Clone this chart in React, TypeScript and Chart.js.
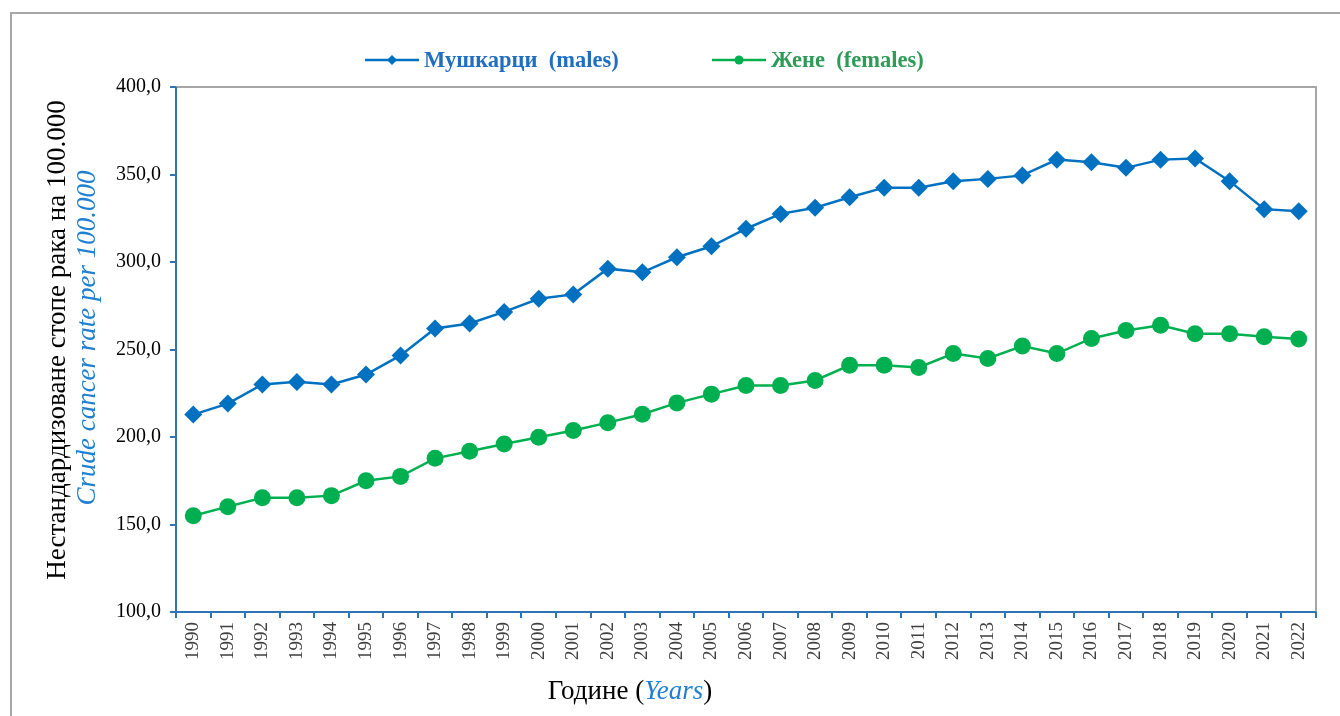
import React, { useEffect, useRef } from "react";
import { Chart, registerables } from "chart.js";

Chart.register(...registerables);

const years = [
  "1990","1991","1992","1993","1994","1995","1996","1997","1998","1999",
  "2000","2001","2002","2003","2004","2005","2006","2007","2008","2009",
  "2010","2011","2012","2013","2014","2015","2016","2017","2018","2019",
  "2020","2021","2022",
];

const males = [
  212.8, 219.1, 230.0, 231.5, 230.0, 235.7, 246.6, 262.0, 264.9, 271.5,
  279.0, 281.5, 296.2, 294.1, 302.7, 309.0, 319.0, 327.5, 331.0, 337.0,
  342.5, 342.5, 346.2, 347.5, 349.5, 358.5, 357.0, 353.8, 358.5, 359.2,
  346.2, 330.2, 329.0,
];

const females = [
  155.0, 160.2, 165.3, 165.3, 166.5, 175.0, 177.5, 187.8, 191.8, 196.0,
  199.8, 203.7, 208.2, 213.0, 219.5, 224.5, 229.4, 229.4, 232.3, 241.0,
  241.0, 239.7, 247.7, 244.9, 252.0, 247.7, 256.3, 260.9, 263.8, 259.0,
  259.0, 257.3, 256.0,
];

const maleLabel = "Мушкарци  (males)";
const femaleLabel = "Жене  (females)";
const yTitleMain = "Нестандардизоване стопе рака на 100.000";
const yTitleSub = "Crude cancer rate per 100.000";
const xTitleMain = "Године (";
const xTitleSub = "Years";
const xTitleEnd = ")";

const BLUE = "#0070C0";
const GREEN = "#00B050";
const AXIS = "#2E75B6";
const FRAME = "#A6A6A6";
const SERIF = "'Liberation Serif', 'DejaVu Serif', serif";

const decor = {
  id: "decor",
  beforeDraw(chart: any) {
    const { ctx } = chart;
    ctx.save();
    ctx.fillStyle = "#fff";
    ctx.fillRect(0, 0, chart.width, chart.height);
    ctx.strokeStyle = FRAME;
    ctx.lineWidth = 2;
    ctx.beginPath();
    ctx.moveTo(11, chart.height);
    ctx.lineTo(11, 13);
    ctx.lineTo(chart.width, 13);
    ctx.stroke();
    ctx.restore();
  },
  afterDraw(chart: any) {
    const { ctx, chartArea } = chart;
    const { left, right, top, bottom } = chartArea;
    ctx.save();
    ctx.strokeStyle = FRAME;
    ctx.lineWidth = 2;
    ctx.beginPath();
    ctx.moveTo(left, top);
    ctx.lineTo(right, top);
    ctx.lineTo(right, bottom);
    ctx.stroke();
    ctx.strokeStyle = AXIS;
    ctx.lineWidth = 2;
    ctx.beginPath();
    ctx.moveTo(left, top);
    ctx.lineTo(left, bottom);
    ctx.lineTo(right, bottom);
    ctx.stroke();

    // legend
    const ly = 60;
    const drawItem = (x0: number, color: string, textColor: string, label: string, style: string) => {
      ctx.strokeStyle = color;
      ctx.lineWidth = 2.5;
      ctx.beginPath();
      ctx.moveTo(x0, ly);
      ctx.lineTo(x0 + 54, ly);
      ctx.stroke();
      ctx.fillStyle = color;
      const cx = x0 + 27;
      if (style === "diamond") {
        ctx.beginPath();
        ctx.moveTo(cx, ly - 5);
        ctx.lineTo(cx + 5, ly);
        ctx.lineTo(cx, ly + 5);
        ctx.lineTo(cx - 5, ly);
        ctx.closePath();
        ctx.fill();
      } else {
        ctx.beginPath();
        ctx.arc(cx, ly, 4.5, 0, Math.PI * 2);
        ctx.fill();
      }
      ctx.fillStyle = textColor;
      ctx.font = `bold 22.5px ${SERIF}`;
      ctx.textBaseline = "middle";
      ctx.textAlign = "left";
      ctx.fillText(label, x0 + 59, ly + 1);
    };
    drawItem(365, BLUE, "#1F6EC1", maleLabel, "diamond");
    drawItem(712, GREEN, "#2E9B57", femaleLabel, "circle");

    // y title
    ctx.save();
    ctx.translate(58, 340);
    ctx.rotate(-Math.PI / 2);
    ctx.textAlign = "center";
    ctx.textBaseline = "middle";
    ctx.fillStyle = "#000";
    ctx.font = `27px ${SERIF}`;
    ctx.fillText(yTitleMain, 0, 0);
    ctx.restore();
    ctx.save();
    ctx.translate(88, 338);
    ctx.rotate(-Math.PI / 2);
    ctx.textAlign = "center";
    ctx.textBaseline = "middle";
    ctx.fillStyle = "#1F7FD0";
    ctx.font = `italic 27px ${SERIF}`;
    ctx.fillText(yTitleSub, 0, 0);
    ctx.restore();

    // x title
    ctx.textBaseline = "middle";
    ctx.textAlign = "left";
    ctx.font = `27px ${SERIF}`;
    const w1 = ctx.measureText(xTitleMain).width;
    ctx.font = `italic 27px ${SERIF}`;
    const w2 = ctx.measureText(xTitleSub).width;
    ctx.font = `27px ${SERIF}`;
    const w3 = ctx.measureText(xTitleEnd).width;
    let tx = 630 - (w1 + w2 + w3) / 2;
    const ty = 692;
    ctx.fillStyle = "#000";
    ctx.fillText(xTitleMain, tx, ty);
    tx += w1;
    ctx.font = `italic 27px ${SERIF}`;
    ctx.fillStyle = "#1F7FD0";
    ctx.fillText(xTitleSub, tx, ty);
    tx += w2;
    ctx.font = `27px ${SERIF}`;
    ctx.fillStyle = "#000";
    ctx.fillText(xTitleEnd, tx, ty);
    ctx.restore();
  },
};

export default function App() {
  const ref = useRef<HTMLCanvasElement | null>(null);
  useEffect(() => {
    if (!ref.current) return;
    const chart = new Chart(ref.current, {
      type: "line",
      data: {
        labels: years,
        datasets: [
          {
            label: maleLabel,
            data: males,
            borderColor: BLUE,
            backgroundColor: BLUE,
            borderWidth: 2.5,
            pointStyle: "rectRot",
            pointRadius: 9,
            pointBorderWidth: 0,
            tension: 0,
          },
          {
            label: femaleLabel,
            data: females,
            borderColor: GREEN,
            backgroundColor: GREEN,
            borderWidth: 2.5,
            pointStyle: "circle",
            pointRadius: 8.5,
            pointBorderWidth: 0,
            tension: 0,
          },
        ],
      },
      options: {
        responsive: false,
        animation: false,
        layout: { padding: { top: 87, right: 24, left: 0, bottom: 0 } },
        plugins: {
          legend: { display: false },
          tooltip: { enabled: false },
        },
        scales: {
          x: {
            type: "category",
            offset: true,
            border: { display: false },
            grid: {
              offset: true,
              drawOnChartArea: false,
              drawTicks: true,
              tickLength: 6,
              color: AXIS,
              lineWidth: 2,
            },
            ticks: {
              maxRotation: 90,
              minRotation: 90,
              autoSkip: false,
              padding: 4,
              color: "#404040",
              font: { family: SERIF, size: 19 },
            },
            afterFit(scale: any) {
              scale.height = 104;
            },
          },
          y: {
            min: 100,
            max: 400,
            border: { display: false },
            grid: {
              drawOnChartArea: false,
              drawTicks: true,
              tickLength: 6,
              color: AXIS,
              lineWidth: 2,
            },
            ticks: {
              stepSize: 50,
              padding: 9,
              color: "#000",
              font: { family: SERIF, size: 20 },
              callback: (v: any) => Number(v).toFixed(1).replace(".", ","),
            },
            afterFit(scale: any) {
              scale.width = 176;
            },
          },
        },
      },
      plugins: [decor],
    });
    return () => chart.destroy();
  }, []);
  return (
    <div style={{ position: "absolute", left: 0, top: 0, width: 1340, height: 716 }}>
      <canvas ref={ref} width={1340} height={716} style={{ display: "block" }} />
    </div>
  );
}
